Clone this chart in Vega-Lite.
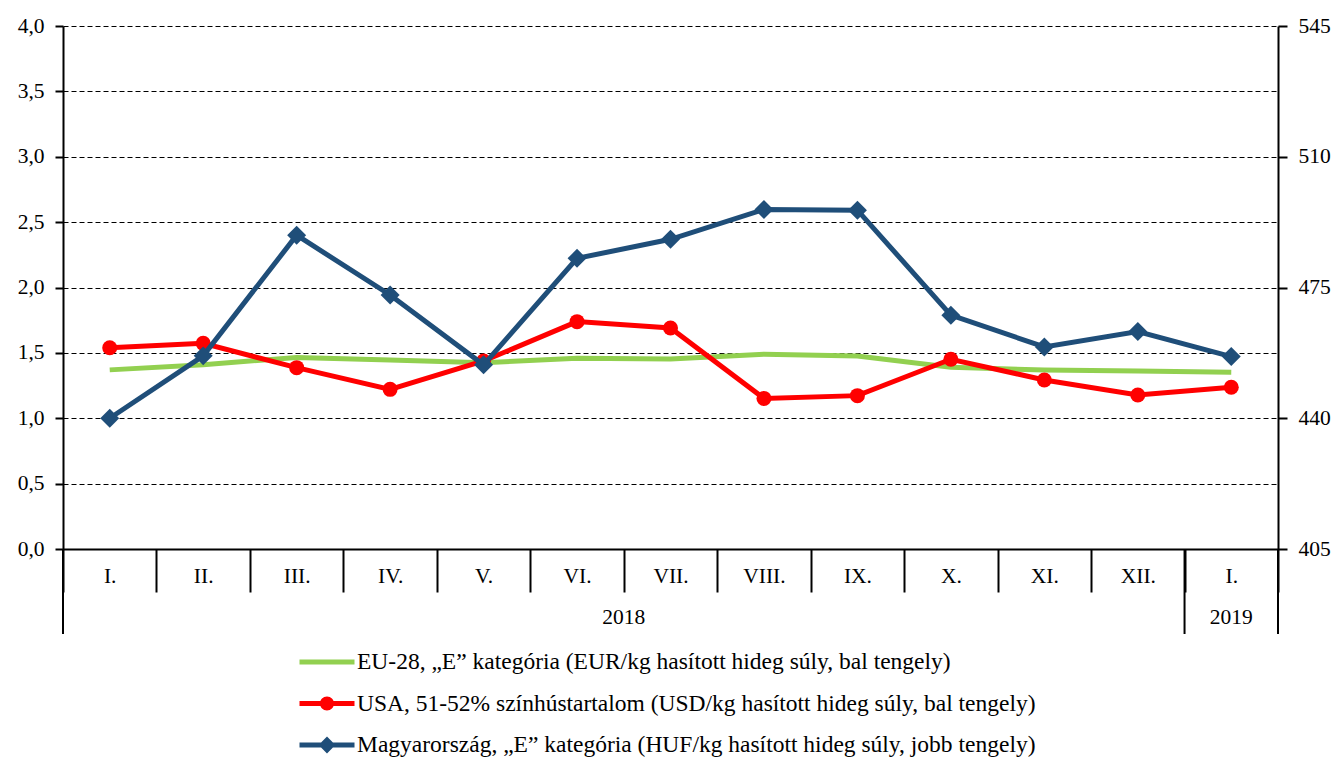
{
  "$schema": "https://vega.github.io/schema/vega-lite/v6.json",
  "autosize": {"type": "none"},
  "padding": {"left": 63, "top": 26, "right": 60, "bottom": 214},
  "width": 1215,
  "height": 523,
  "background": "white",
  "config": {
    "font": "Times New Roman, Liberation Serif, serif",
    "view": {"stroke": null},
    "text": {"font": "Times New Roman, Liberation Serif, serif"},
    "legend": {"labelFont": "Times New Roman, Liberation Serif, serif"},
    "axis": {
      "domainColor": "#000000",
      "domainWidth": 2,
      "tickColor": "#000000",
      "tickWidth": 2,
      "labelColor": "#000000",
      "labelFont": "Times New Roman, Liberation Serif, serif",
      "labelFontSize": 21.5
    }
  },
  "datasets": {
    "series": [
      {"key": "2018-I.", "series": "EU", "value": 1.37},
      {"key": "2018-II.", "series": "EU", "value": 1.41},
      {"key": "2018-III.", "series": "EU", "value": 1.465},
      {"key": "2018-IV.", "series": "EU", "value": 1.445},
      {"key": "2018-V.", "series": "EU", "value": 1.425},
      {"key": "2018-VI.", "series": "EU", "value": 1.458},
      {"key": "2018-VII.", "series": "EU", "value": 1.453},
      {"key": "2018-VIII.", "series": "EU", "value": 1.49},
      {"key": "2018-IX.", "series": "EU", "value": 1.476},
      {"key": "2018-X.", "series": "EU", "value": 1.39},
      {"key": "2018-XI.", "series": "EU", "value": 1.369},
      {"key": "2018-XII.", "series": "EU", "value": 1.361},
      {"key": "2019-I.", "series": "EU", "value": 1.351},
      {"key": "2018-I.", "series": "USA", "value": 1.539},
      {"key": "2018-II.", "series": "USA", "value": 1.573},
      {"key": "2018-III.", "series": "USA", "value": 1.387},
      {"key": "2018-IV.", "series": "USA", "value": 1.221},
      {"key": "2018-V.", "series": "USA", "value": 1.438},
      {"key": "2018-VI.", "series": "USA", "value": 1.739},
      {"key": "2018-VII.", "series": "USA", "value": 1.69},
      {"key": "2018-VIII.", "series": "USA", "value": 1.152},
      {"key": "2018-IX.", "series": "USA", "value": 1.173},
      {"key": "2018-X.", "series": "USA", "value": 1.451},
      {"key": "2018-XI.", "series": "USA", "value": 1.293},
      {"key": "2018-XII.", "series": "USA", "value": 1.178},
      {"key": "2019-I.", "series": "USA", "value": 1.237},
      {"key": "2018-I.", "series": "HU", "value": 440.0},
      {"key": "2018-II.", "series": "HU", "value": 456.7},
      {"key": "2018-III.", "series": "HU", "value": 489.0},
      {"key": "2018-IV.", "series": "HU", "value": 473.0},
      {"key": "2018-V.", "series": "HU", "value": 454.3},
      {"key": "2018-VI.", "series": "HU", "value": 482.8},
      {"key": "2018-VII.", "series": "HU", "value": 487.9},
      {"key": "2018-VIII.", "series": "HU", "value": 495.9},
      {"key": "2018-IX.", "series": "HU", "value": 495.7},
      {"key": "2018-X.", "series": "HU", "value": 467.6},
      {"key": "2018-XI.", "series": "HU", "value": 459.1},
      {"key": "2018-XII.", "series": "HU", "value": 463.2},
      {"key": "2019-I.", "series": "HU", "value": 456.5}
    ],
    "sepStart": [{"key": "2018-I."}, {"key": "2019-I."}],
    "sepEnd": [{"key": "2019-I."}],
    "year2018": [{"key": "2018-VI.", "label": "2018"}],
    "year2019": [{"key": "2019-I.", "label": "2019"}]
  },
  "layer": [
    {
      "layer": [
        {
          "data": {"name": "series"},
          "transform": [{"filter": "datum.series == 'EU'"}],
          "mark": {"type": "line", "strokeWidth": 5},
          "encoding": {
            "x": {"field": "key", "type": "nominal", "bandPosition": 0.5,
              "scale": {"type": "band", "paddingInner": 0, "paddingOuter": 0,
                "domain": ["2018-I.","2018-II.","2018-III.","2018-IV.","2018-V.","2018-VI.","2018-VII.","2018-VIII.","2018-IX.","2018-X.","2018-XI.","2018-XII.","2019-I."]},
              "axis": {"title": null, "labelExpr": "split(datum.value, '-')[1]", "tickBand": "extent", "tickSize": 43, "labelPadding": -16, "labelBaseline": "middle", "labelAngle": 0, "grid": false}},
            "y": {"field": "value", "type": "quantitative",
              "scale": {"domain": [0, 4], "nice": false, "zero": false},
              "axis": {"title": null, "values": [0, 0.5, 1, 1.5, 2, 2.5, 3, 3.5, 4], "labelExpr": "replace(format(datum.value, '.1f'), '.', ',')", "grid": true, "gridDash": [5, 3], "gridColor": "#000000", "gridWidth": 1, "tickSize": 8, "labelPadding": 11}},
            "color": {"field": "series", "type": "nominal",
              "scale": {"domain": ["EU", "USA", "HU"], "range": ["#92D050", "#FF0000", "#1F4E79"]},
              "legend": {
                "orient": "none", "legendX": 244, "legendY": 616, "direction": "vertical",
                "title": null, "padding": 0, "symbolSize": 1600, "labelFont": "Times New Roman, Liberation Serif, serif",
                "labelFontSize": 23.5, "labelColor": "#000000", "labelOffset": 10, "rowPadding": 9.5, "labelLimit": 0,
                "labelExpr": "datum.value == 'EU' ? 'EU-28, „E” kategória (EUR/kg hasított hideg súly, bal tengely)' : datum.value == 'USA' ? 'USA, 51-52% színhústartalom (USD/kg hasított hideg súly, bal tengely)' : 'Magyarország, „E” kategória (HUF/kg hasított hideg súly, jobb tengely)'",
                "encode": {
                  "labels": {"update": {"font": {"value": "Times New Roman, Liberation Serif, serif"}}},
                  "symbols": {"update": {
                  "shape": {"signal": "datum.value == 'EU' ? 'M-1.375,-0.125H1.375V0.125H-1.375Z' : datum.value == 'USA' ? 'M-1.375,-0.125H1.375V0.125H-1.375Z M-0.35,0A0.35,0.35 0 1,1 0.35,0A0.35,0.35 0 1,1 -0.35,0Z' : 'M-1.375,-0.125H1.375V0.125H-1.375Z M0,-0.42L0.42,0L0,0.42L-0.42,0Z'"},
                  "fill": {"signal": "datum.value == 'EU' ? '#92D050' : datum.value == 'USA' ? '#FF0000' : '#1F4E79'"},
                  "fillOpacity": {"value": 1},
                  "stroke": {"value": "transparent"},
                  "strokeWidth": {"value": 0},
                  "opacity": {"value": 1}
                }}}
              }}
          }
        },
        {
          "data": {"name": "series"},
          "transform": [{"filter": "datum.series == 'USA'"}],
          "mark": {"type": "line", "strokeWidth": 5, "color": "#FF0000"},
          "encoding": {
            "x": {"field": "key", "type": "nominal", "bandPosition": 0.5},
            "y": {"field": "value", "type": "quantitative", "scale": {"domain": [0, 4], "nice": false, "zero": false}}
          }
        },
        {
          "data": {"name": "series"},
          "transform": [{"filter": "datum.series == 'USA'"}],
          "mark": {"type": "point", "shape": "circle", "filled": true, "size": 225, "color": "#FF0000", "opacity": 1},
          "encoding": {
            "x": {"field": "key", "type": "nominal", "bandPosition": 0.5},
            "y": {"field": "value", "type": "quantitative", "scale": {"domain": [0, 4], "nice": false, "zero": false}}
          }
        },
        {
          "data": {"name": "sepStart"},
          "mark": {"type": "rule", "color": "#000000", "strokeWidth": 2},
          "encoding": {
            "x": {"field": "key", "type": "nominal", "bandPosition": 0},
            "y": {"datum": 0, "type": "quantitative", "scale": {"domain": [0, 4], "nice": false, "zero": false}},
            "y2": {"datum": -0.65}
          }
        },
        {
          "data": {"name": "sepEnd"},
          "mark": {"type": "rule", "color": "#000000", "strokeWidth": 2},
          "encoding": {
            "x": {"field": "key", "type": "nominal", "bandPosition": 1},
            "y": {"datum": 0, "type": "quantitative", "scale": {"domain": [0, 4], "nice": false, "zero": false}},
            "y2": {"datum": -0.65}
          }
        },
        {
          "data": {"name": "year2018"},
          "mark": {"type": "text", "fontSize": 21.5, "color": "#000000", "align": "center", "baseline": "middle"},
          "encoding": {
            "x": {"field": "key", "type": "nominal", "bandPosition": 1},
            "y": {"datum": -0.528, "type": "quantitative", "scale": {"domain": [0, 4], "nice": false, "zero": false}},
            "text": {"field": "label"}
          }
        },
        {
          "data": {"name": "year2019"},
          "mark": {"type": "text", "fontSize": 21.5, "color": "#000000", "align": "center", "baseline": "middle"},
          "encoding": {
            "x": {"field": "key", "type": "nominal", "bandPosition": 0.5},
            "y": {"datum": -0.528, "type": "quantitative", "scale": {"domain": [0, 4], "nice": false, "zero": false}},
            "text": {"field": "label"}
          }
        }
      ]
    },
    {
      "layer": [
        {
          "data": {"name": "series"},
          "transform": [{"filter": "datum.series == 'HU'"}],
          "mark": {"type": "line", "strokeWidth": 5, "color": "#1F4E79"},
          "encoding": {
            "x": {"field": "key", "type": "nominal", "bandPosition": 0.5},
            "y": {"field": "value", "type": "quantitative",
              "scale": {"domain": [405, 545], "nice": false, "zero": false},
              "axis": {"title": null, "orient": "right", "values": [405, 440, 475, 510, 545], "grid": false, "tickSize": 9, "labelPadding": 11}}
          }
        },
        {
          "data": {"name": "series"},
          "transform": [{"filter": "datum.series == 'HU'"}],
          "mark": {"type": "point", "shape": "diamond", "filled": true, "size": 360, "color": "#1F4E79", "opacity": 1},
          "encoding": {
            "x": {"field": "key", "type": "nominal", "bandPosition": 0.5},
            "y": {"field": "value", "type": "quantitative", "scale": {"domain": [405, 545], "nice": false, "zero": false}}
          }
        }
      ]
    }
  ],
  "resolve": {"scale": {"y": "independent"}}
}
